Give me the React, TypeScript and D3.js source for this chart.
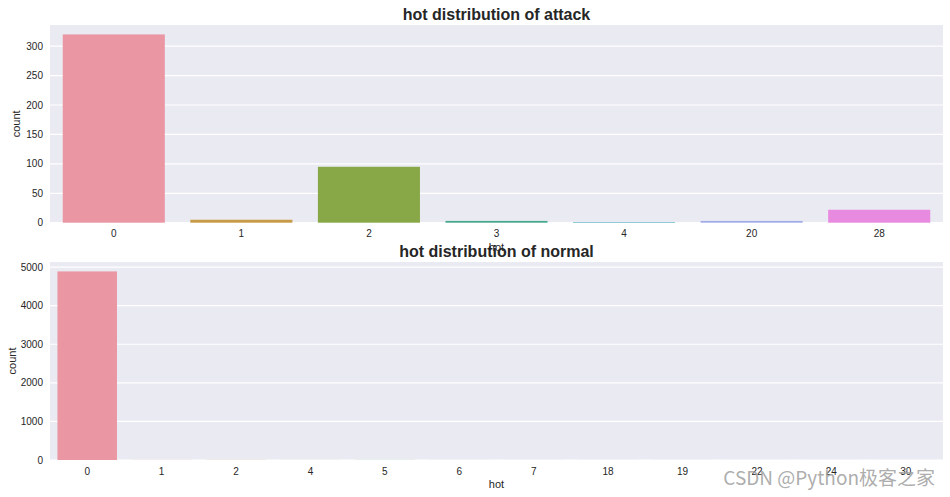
import React from "react";
import * as d3 from "d3";

const attackCats = ["0", "1", "2", "3", "4", "20", "28"];
const attackCounts = [320, 5, 95, 3, 1, 3, 22];
const attackColors = ["#ea96a3", "#c69a47", "#88a847", "#46a88c", "#44a8b8", "#a0abe8", "#e88adf"];
const attackTicks = [0, 50, 100, 150, 200, 250, 300];

const normalCats = ["0", "1", "2", "4", "5", "6", "7", "18", "19", "22", "24", "30"];
const normalCounts = [4888, 2, 3, 1, 2, 1, 1, 1, 1, 1, 1, 1];
const normalColors = ["#ea96a3", "#d89a5f", "#b5a347", "#95a846", "#5dae4f", "#48ab88", "#4aa9a2", "#4ea7bd", "#7fa7e6", "#b39be6", "#e186de", "#e48fbd"];
const normalTicks = [0, 1000, 2000, 3000, 4000, 5000];

const W = 950;
const H = 497;
const FONT = "'Liberation Sans', Arial, sans-serif";

type PanelProps = {
  cats: string[];
  counts: number[];
  colors: string[];
  ticks: number[];
  top: number;
  bottom: number;
  title: string;
  titleY: number;
  countX: number;
};

function Panel({ cats, counts, colors, ticks, top, bottom, title, titleY, countX }: PanelProps) {
  const left = 50;
  const right = 943;
  const maxV = d3.max(counts) as number;
  const y = d3.scaleLinear().domain([0, maxV * 1.05]).range([bottom, top]);
  const step = (right - left) / cats.length;
  const bw = step * 0.8;
  return (
    <g>
      <rect x={left} y={top} width={right - left} height={bottom - top} fill="#eaeaf2" />
      {ticks.map((t) => (
        <line key={"g" + t} x1={left} x2={right} y1={y(t)} y2={y(t)} stroke="#ffffff" strokeWidth={1.2} />
      ))}
      {cats.map((c, i) => {
        const cx = left + step * (i + 0.5);
        return (
          <rect
            key={"b" + c}
            x={cx - bw / 2}
            y={y(counts[i])}
            width={bw}
            height={bottom - y(counts[i])}
            fill={colors[i]}
          />
        );
      })}
      {ticks.map((t) => (
        <text key={"yt" + t} x={left - 7} y={y(t) + 3.5} textAnchor="end" fontSize={10} fill="#262626" fontFamily={FONT}>
          {t}
        </text>
      ))}
      {cats.map((c, i) => (
        <text
          key={"xt" + c}
          x={left + step * (i + 0.5)}
          y={bottom + 14.5}
          textAnchor="middle"
          fontSize={10}
          fill="#262626"
          fontFamily={FONT}
        >
          {c}
        </text>
      ))}
      <text
        x={(left + right) / 2}
        y={bottom + 28}
        textAnchor="middle"
        fontSize={11}
        fill="#262626"
        fontFamily={FONT}
      >
        hot
      </text>
      <text
        transform={`translate(${countX},${(top + bottom) / 2}) rotate(-90)`}
        textAnchor="middle"
        fontSize={11}
        fill="#262626"
        fontFamily={FONT}
      >
        count
      </text>
      <text
        x={(left + right) / 2}
        y={titleY}
        textAnchor="middle"
        fontSize={16}
        fontWeight="bold"
        fill="#262626"
        fontFamily={FONT}
      >
        {title}
      </text>
    </g>
  );
}

export default function App() {
  return (
    <svg width={W} height={H} style={{ position: "absolute", left: 0, top: 0, background: "#ffffff" }}>
      <rect x={0} y={0} width={W} height={H} fill="#ffffff" />
      <Panel
        cats={attackCats}
        counts={attackCounts}
        colors={attackColors}
        ticks={attackTicks}
        top={25}
        bottom={222.7}
        title="hot distribution of attack"
        titleY={19.5}
        countX={20}
      />
      <Panel
        cats={normalCats}
        counts={normalCounts}
        colors={normalColors}
        ticks={normalTicks}
        top={262}
        bottom={460}
        title="hot distribution of normal"
        titleY={256.5}
        countX={16}
      />
      <text x={935} y={484.5} textAnchor="end" fontSize={19} fill="#a3a3a3" fillOpacity={0.9} fontFamily={"'Noto Sans CJK SC', 'Liberation Sans', sans-serif"}>
        CSDN @Python极客之家
      </text>
    </svg>
  );
}
